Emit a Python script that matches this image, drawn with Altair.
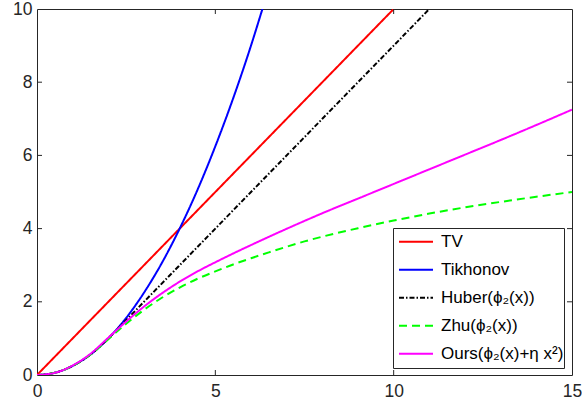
import altair as alt
import pandas as pd

# ---- data ----
names = ["TV", "Tikhonov", "Huber(ϕ₂(x))", "Zhu(ϕ₂(x))", "Ours(ϕ₂(x)+η x²)"]
colors = ["#ff0000", "#0000ff", "#000000", "#00ff00", "#ff00ff"]
dashes = [[1, 0], [1, 0], [5, 2, 1.5, 2], [8, 5], [1, 0]]

tv_x = [0, 10]
tv_y = [0, 10]

tik_x = [0, 0.5, 1, 1.5, 2, 2.5, 3, 3.5, 4, 4.5, 5, 5.5, 6, 6.32]
tik_y = [0, 0.06, 0.25, 0.56, 1.0, 1.56, 2.25, 3.06, 4.0, 5.06, 6.25, 7.56, 9.0, 10.0]

hub_x = [0, 0.5, 1, 1.5, 2, 2.5, 3, 4, 6, 8, 11]
hub_y = [0, 0.06, 0.25, 0.56, 1.0, 1.5, 2.0, 3.0, 5.0, 7.0, 10.0]

zhu_x = [0, 0.5, 1, 1.5, 2, 2.5, 3, 3.5, 4, 4.5, 5, 5.5, 6, 6.5, 7, 7.5, 8, 9, 10, 11, 12, 13, 14, 15]
zhu_y = [0, 0.06, 0.25, 0.56, 0.98, 1.40, 1.78, 2.11, 2.39, 2.63, 2.83, 3.02, 3.19, 3.35, 3.505,
         3.65, 3.78, 4.01, 4.22, 4.41, 4.58, 4.73, 4.87, 5.00]

ours_x = [0, 0.5, 1, 1.5, 2, 2.5, 3, 3.5, 4, 4.5, 5, 5.5, 6, 6.5, 7, 7.5, 8, 9, 10, 11, 12, 13, 14, 15]
ours_y = [0, 0.06, 0.26, 0.58, 1.02, 1.46, 1.87, 2.23, 2.55, 2.83, 3.08, 3.32, 3.55, 3.775, 3.995,
          4.21, 4.42, 4.82, 5.22, 5.62, 6.02, 6.42, 6.83, 7.25]

x_ticks = [0, 5, 10, 15]
y_ticks = [0, 2, 4, 6, 8, 10]
x_inner = [5, 10]
y_inner = [2, 4, 6, 8]

series = [(names[0], tv_x, tv_y), (names[1], tik_x, tik_y), (names[2], hub_x, hub_y),
          (names[3], zhu_x, zhu_y), (names[4], ours_x, ours_y)]
rows = []
for nm, xs, ys in series:
    for xv, yv in zip(xs, ys):
        rows.append({"series": nm, "x": xv, "y": yv})
df = pd.DataFrame(rows)

W, H = 535, 366
AX = "#262626"
FONT = "Liberation Sans"

xscale = alt.Scale(domain=[0, 15], nice=False, zero=False)
yscale = alt.Scale(domain=[0, 10], nice=False, zero=False)
xaxis = alt.Axis(values=x_ticks, labelFlush=False, labelPadding=7)
yaxis = alt.Axis(values=y_ticks, labelFlush=False, labelPadding=5)

lines = alt.Chart(df).mark_line(strokeWidth=2, interpolate="monotone", clip=True).encode(
    x=alt.X("x:Q", scale=xscale, title=None, axis=xaxis),
    y=alt.Y("y:Q", scale=yscale, title=None, axis=yaxis),
    color=alt.Color("series:N", title=None, scale=alt.Scale(domain=names, range=colors)),
    strokeDash=alt.StrokeDash("series:N", title=None, scale=alt.Scale(domain=names, range=dashes)),
)

xt = pd.DataFrame({"x": x_inner})
yt = pd.DataFrame({"y": y_inner})
tb = alt.Chart(xt).mark_rule(color=AX, strokeWidth=1).encode(
    x=alt.X("x:Q", scale=xscale, title=None, axis=xaxis), y=alt.value(H), y2=alt.value(H - 5))
tt = alt.Chart(xt).mark_rule(color=AX, strokeWidth=1).encode(
    x=alt.X("x:Q", scale=xscale, title=None, axis=xaxis), y=alt.value(0), y2=alt.value(5))
tl = alt.Chart(yt).mark_rule(color=AX, strokeWidth=1).encode(
    y=alt.Y("y:Q", scale=yscale, title=None, axis=yaxis), x=alt.value(0), x2=alt.value(5))
tr = alt.Chart(yt).mark_rule(color=AX, strokeWidth=1).encode(
    y=alt.Y("y:Q", scale=yscale, title=None, axis=yaxis), x=alt.value(W), x2=alt.value(W - 5))

chart = alt.layer(lines, tb, tt, tl, tr).properties(
    width=W, height=H,
    autosize=alt.AutoSizeParams(type="none"),
    padding={"left": 37, "top": 9, "right": 10, "bottom": 34},
).configure_view(
    stroke=AX, strokeWidth=1
).configure_axis(
    domain=False, ticks=False, grid=False,
    labelFont=FONT, labelFontSize=17.5, labelColor=AX,
).configure_legend(
    orient="none", legendX=356, legendY=219,
    symbolType="stroke", symbolSize=1156, symbolStrokeWidth=2,
    clipHeight=27.5, rowPadding=0, padding=0,
    symbolOffset=5, labelOffset=7,
    labelFont=FONT, labelFontSize=17, labelColor="#000000", labelLimit=300,
    fillColor="#ffffff", strokeColor=AX, strokeWidth=1,
)

chart.save("out.html", embed_options={"renderer": "svg", "actions": False})
